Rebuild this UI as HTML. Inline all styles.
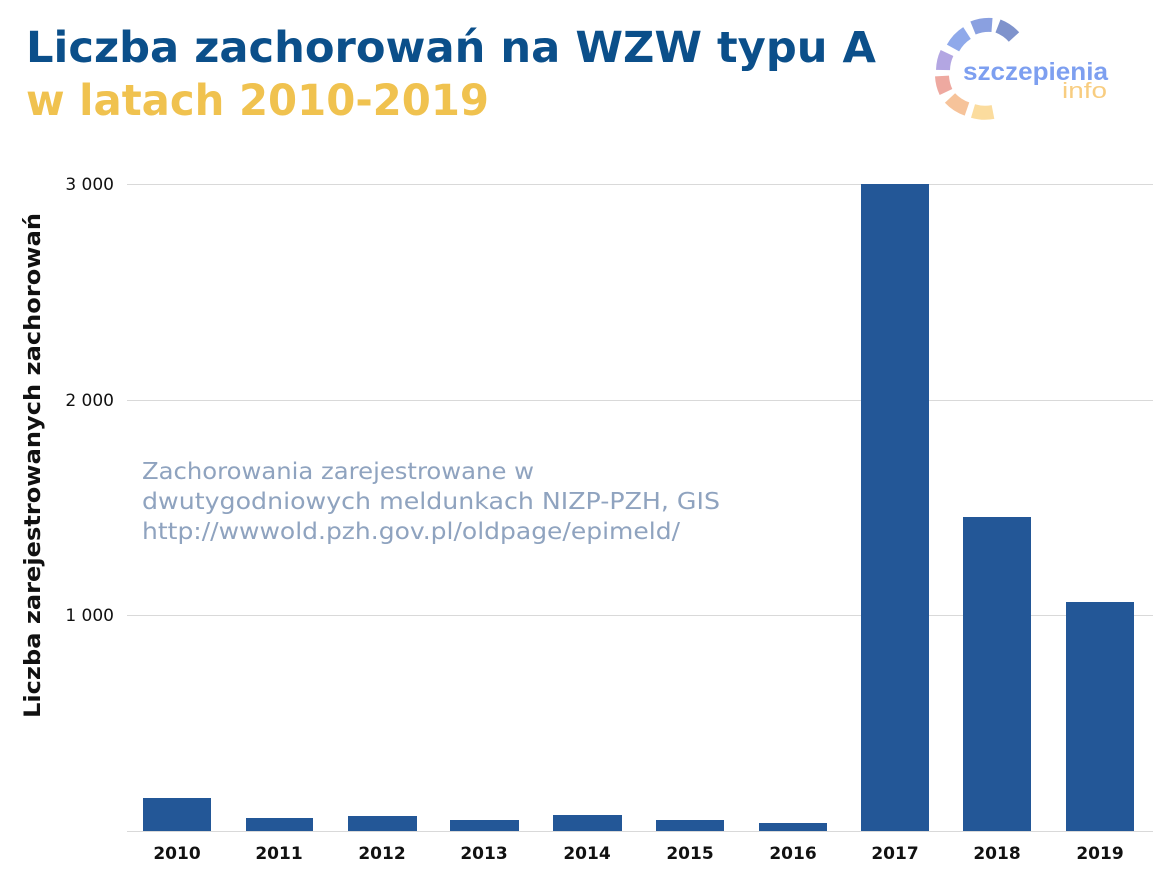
<!DOCTYPE html>
<html><head><meta charset="utf-8"><style>
body{margin:0;width:1169px;height:891px;background:#fff;overflow:hidden;font-family:"Liberation Sans",sans-serif}
</style></head><body>
<svg width="1169" height="891" xmlns="http://www.w3.org/2000/svg">
<text x="26" y="62" font-size="43" font-weight="bold" fill="#0b4f8a" font-family="DejaVu Sans, Liberation Sans, sans-serif" textLength="850" lengthAdjust="spacingAndGlyphs">Liczba zachorowań na WZW typu A</text>
<text x="26" y="115" font-size="43" font-weight="bold" fill="#f0c24f" font-family="DejaVu Sans, Liberation Sans, sans-serif" textLength="463" lengthAdjust="spacingAndGlyphs">w latach 2010-2019</text>
<g fill="none" stroke-width="14">
<path d="M953 48 A42 42 0 0 1 967 33" stroke="#8fa9ea"/>
<path d="M973 28 A42 42 0 0 1 992 25" stroke="#8aa0e0"/>
<path d="M998 26 A42 42 0 0 1 1014 37" stroke="#7f93cc"/>
<path d="M943 70 A42 42 0 0 1 947 53" stroke="#b3a6e2"/>
<path d="M946 92 A42 42 0 0 1 942 76" stroke="#eea9a0"/>
<path d="M967 109 A42 42 0 0 1 950 98" stroke="#f6c39a"/>
<path d="M993 112 A42 42 0 0 1 973 111" stroke="#fbdc9e"/>
</g>
<text x="963" y="80" font-size="25" font-weight="bold" fill="#7d9ff0" textLength="145" lengthAdjust="spacingAndGlyphs">szczepienia</text>
<text x="1062" y="98" font-size="22" fill="#f8cd80" textLength="45" lengthAdjust="spacingAndGlyphs">info</text>
<g stroke="#d9d9d9" stroke-width="1">
<line x1="127" x2="1153" y1="184.5" y2="184.5"/>
<line x1="127" x2="1153" y1="400.5" y2="400.5"/>
<line x1="127" x2="1153" y1="615.5" y2="615.5"/>
<line x1="127" x2="1153" y1="831.5" y2="831.5"/>
</g>
<g font-size="17" fill="#111" text-anchor="end" font-family="DejaVu Sans, Liberation Sans, sans-serif">
<text x="114" y="190">3 000</text><text x="114" y="406">2 000</text><text x="114" y="621">1 000</text>
</g>
<text transform="translate(40 718) rotate(-90)" font-size="22" font-weight="bold" fill="#111" font-family="DejaVu Sans, Liberation Sans, sans-serif" textLength="505" lengthAdjust="spacingAndGlyphs">Liczba zarejestrowanych zachorowań</text>
<g font-size="23" fill="#8fa3bf" font-family="DejaVu Sans, Liberation Sans, sans-serif">
<text x="142" y="479" textLength="392" lengthAdjust="spacingAndGlyphs">Zachorowania zarejestrowane w</text>
<text x="142" y="509" textLength="578" lengthAdjust="spacingAndGlyphs">dwutygodniowych meldunkach NIZP-PZH, GIS</text>
<text x="142" y="539" textLength="538" lengthAdjust="spacingAndGlyphs">http://wwwold.pzh.gov.pl/oldpage/epimeld/</text>
</g>
<g fill="#235797">
<rect x="143" y="798" width="68" height="33"/>
<rect x="246" y="818" width="67" height="13"/>
<rect x="348" y="816" width="69" height="15"/>
<rect x="450" y="820" width="69" height="11"/>
<rect x="553" y="815" width="69" height="16"/>
<rect x="656" y="820" width="68" height="11"/>
<rect x="759" y="823" width="68" height="8"/>
<rect x="861" y="184" width="68" height="647"/>
<rect x="963" y="517" width="68" height="314"/>
<rect x="1066" y="602" width="68" height="229"/>
</g>
<g font-size="17" font-weight="bold" fill="#111" text-anchor="middle" font-family="DejaVu Sans, Liberation Sans, sans-serif">
<text x="177" y="859">2010</text><text x="279" y="859">2011</text><text x="382" y="859">2012</text><text x="484" y="859">2013</text><text x="587" y="859">2014</text><text x="690" y="859">2015</text><text x="793" y="859">2016</text><text x="895" y="859">2017</text><text x="997" y="859">2018</text><text x="1100" y="859">2019</text>
</g>
</svg>
</body></html>
